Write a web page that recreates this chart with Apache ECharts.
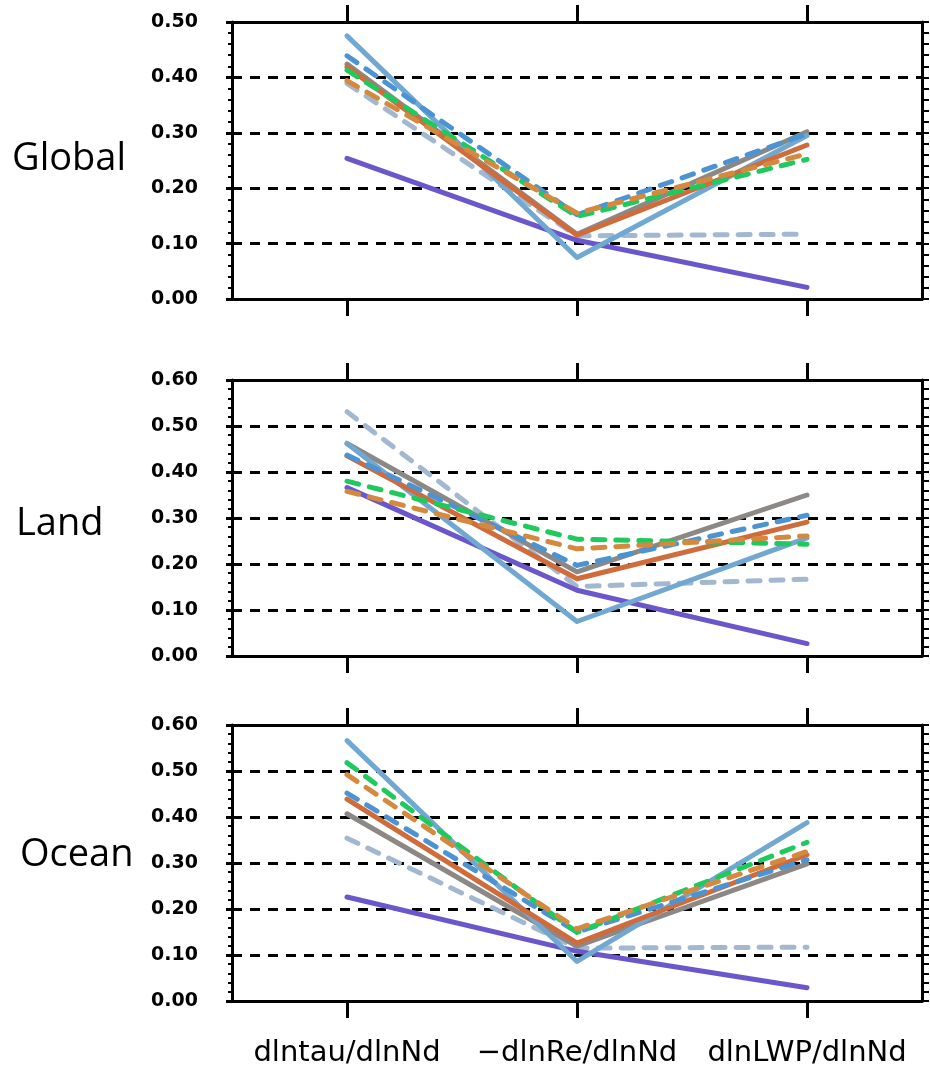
<!DOCTYPE html>
<html>
<head>
<meta charset="utf-8">
<script src="https://cdn.jsdelivr.net/npm/echarts@6/dist/echarts.min.js"></script>
<style>
  html, body { margin: 0; padding: 0; background: #fff; }
  #chart { width: 930px; height: 1068px; }
</style>
</head>
<body>
<div id="chart"></div>
<script>
// categories on x axis
var categories = ['dlntau/dlnNd', '\u2212dlnRe/dlnNd', 'dlnLWP/dlnNd'];
var panelNames = ['Global', 'Land', 'Ocean'];
var panelMax = [0.5, 0.6, 0.6];

// line order: grayblue dash, purple, gray, light blue, orange, blue dash, green dash, orange dash
var lineNames = ['grayblue', 'purple', 'gray', 'lightblue', 'orange', 'blue', 'green', 'tan'];

var globalData = [
	[0.389, 0.114, 0.117],
	[0.254, 0.106, 0.021],
	[0.424, 0.117, 0.302],
	[0.475, 0.075, 0.295],
	[0.419, 0.115, 0.278],
	[0.439, 0.152, 0.298],
	[0.413, 0.149, 0.252],
	[0.394, 0.155, 0.262]
];
var landData = [
	[0.531, 0.151, 0.167],
	[0.366, 0.143, 0.027],
	[0.462, 0.183, 0.350],
	[0.462, 0.075, 0.257],
	[0.435, 0.168, 0.291],
	[0.437, 0.197, 0.306],
	[0.380, 0.254, 0.243],
	[0.358, 0.233, 0.261]
];
var oceanData = [
	[0.354, 0.115, 0.117],
	[0.226, 0.108, 0.029],
	[0.407, 0.119, 0.298],
	[0.566, 0.086, 0.388],
	[0.439, 0.126, 0.318],
	[0.452, 0.150, 0.307],
	[0.518, 0.149, 0.345],
	[0.492, 0.157, 0.325]
];
var panelData = [globalData, landData, oceanData];

// styles
var lineStyles = [
	{ color: '#a2b8d0', dashed: true },
	{ color: '#6b57cc', dashed: false },
	{ color: '#8c8885', dashed: false },
	{ color: '#70a8d2', dashed: false },
	{ color: '#d06b3b', dashed: false },
	{ color: '#4b93d2', dashed: true },
	{ color: '#1fc95e', dashed: true },
	{ color: '#d5893f', dashed: true }
];

var gridTops = [22, 380, 725];
var gridHeights = [277, 276, 277];
var titleY = [157, 522, 853];
var titleX = [12, 16, 20];

function loadChart(){
	var chart = echarts.init(document.getElementById('chart'), null, { renderer: 'canvas' });
	var grids = [], xAxes = [], yAxes = [], series = [], graphics = [];

	for (var p = 0; p < 3; p++) {
		grids.push({ left: 232, width: 690, top: gridTops[p], height: gridHeights[p], containLabel: false });

		// bottom x axis
		xAxes.push({
			type: 'category', gridIndex: p, data: categories, position: 'bottom',
			boundaryGap: true,
			axisLine: { onZero: false, lineStyle: { color: '#000', width: 3 } },
			axisTick: { show: true, alignWithLabel: true, interval: 0, length: 17, lineStyle: { color: '#000', width: 3 } },
			axisLabel: {
				show: p === 2, interval: 0, margin: 38, color: '#000',
				fontFamily: 'DejaVu Sans', fontSize: 29
			},
			splitLine: { show: false }
		});
		// top x axis (border + ticks)
		xAxes.push({
			type: 'category', gridIndex: p, data: categories, position: 'top',
			boundaryGap: true,
			axisLine: { onZero: false, lineStyle: { color: '#000', width: 3 } },
			axisTick: { show: true, alignWithLabel: true, interval: 0, length: 17, lineStyle: { color: '#000', width: 3 } },
			axisLabel: { show: false },
			splitLine: { show: false }
		});
		// left y axis
		yAxes.push({
			type: 'value', gridIndex: p, min: 0, max: panelMax[p], interval: 0.1, position: 'left',
			axisLine: { show: true, onZero: false, lineStyle: { color: '#000', width: 3 } },
			axisTick: { show: true, length: 6, lineStyle: { color: '#000', width: 3 } },
			minorTick: { show: true, splitNumber: 5, length: 4, lineStyle: { color: '#000', width: 2 } },
			axisLabel: {
				margin: 34, color: '#000', fontFamily: 'DejaVu Sans', fontWeight: 'bold', fontSize: 19,
				formatter: function (v) { return v.toFixed(2); }
			},
			splitLine: { show: true, lineStyle: { color: '#000', width: 3, type: [10, 8] } }
		});
		// right y axis (border + ticks)
		yAxes.push({
			type: 'value', gridIndex: p, min: 0, max: panelMax[p], interval: 0.1, position: 'right',
			axisLine: { show: true, onZero: false, lineStyle: { color: '#000', width: 3 } },
			axisTick: { show: true, length: 7, lineStyle: { color: '#000', width: 2 } },
			minorTick: { show: true, splitNumber: 5, length: 7, lineStyle: { color: '#000', width: 2 } },
			axisLabel: { show: false },
			splitLine: { show: false }
		});

		var rows = panelData[p];
		for (var i = 0; i < rows.length; i++) {
			var st = lineStyles[i];
			series.push({
				name: panelNames[p] + ' ' + lineNames[i],
				type: 'line',
				xAxisIndex: p * 2,
				yAxisIndex: p * 2,
				data: rows[i],
				symbol: 'none',
				z: 3 + i,
				lineStyle: {
					color: st.color, width: 5, cap: 'round', join: 'round',
					type: st.dashed ? [12, 11] : 'solid'
				}
			});
		}

		graphics.push({
			type: 'text', left: titleX[p], top: titleY[p] - 17,
			style: { text: panelNames[p], fill: '#000', font: '38px "Open Sans"' }
		});
	}

	var option = {
		animation: false,
		backgroundColor: '#fff',
		grid: grids,
		xAxis: xAxes,
		yAxis: yAxes,
		series: series,
		graphic: graphics
	};
	chart.setOption(option);
}
loadChart();
</script>
</body>
</html>
